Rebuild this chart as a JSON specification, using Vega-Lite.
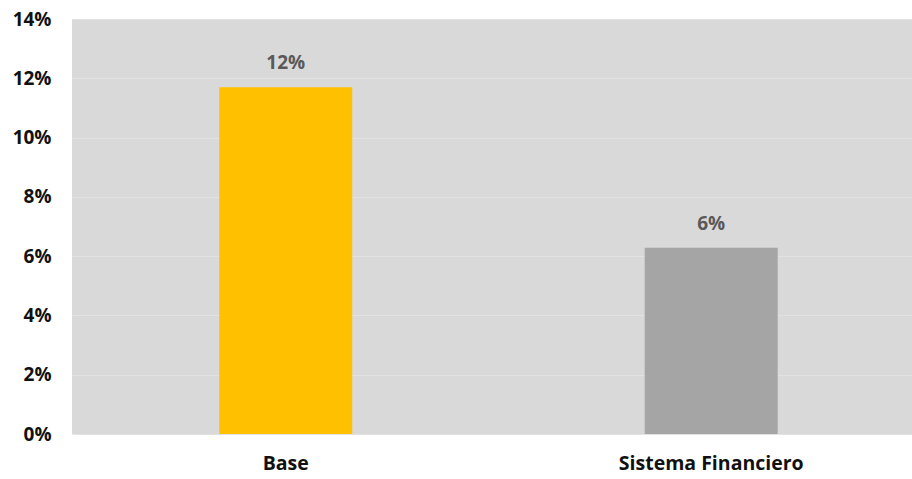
{
  "$schema": "https://vega.github.io/schema/vega-lite/v6.json",
  "autosize": {"type": "none"},
  "padding": {"left": 72, "top": 19, "right": 0, "bottom": 45},
  "width": 840,
  "height": 415,
  "background": "#ffffff",
  "config": {
    "view": {"fill": "#d9d9d9", "stroke": null},
    "font": "Open Sans"
  },
  "data": {
    "values": [
      {"categoria": "Base", "valor": 0.117, "etiqueta": "12%"},
      {"categoria": "Sistema Financiero", "valor": 0.0628, "etiqueta": "6%"}
    ]
  },
  "encoding": {
    "x": {
      "field": "categoria",
      "type": "nominal",
      "sort": null,
      "scale": {"paddingInner": 0.6874, "paddingOuter": 0.3308, "align": 0.523},
      "axis": {
        "title": null,
        "labelAngle": 0,
        "domain": false,
        "ticks": false,
        "labelFontSize": 19.5,
        "labelFontWeight": "bold",
        "labelColor": "#111111",
        "labelPadding": 20,
        "labelLimit": 400
      }
    },
    "y": {
      "field": "valor",
      "type": "quantitative",
      "scale": {"domain": [0, 0.14], "nice": false, "zero": true},
      "axis": {
        "title": null,
        "values": [0, 0.02, 0.04, 0.06, 0.08, 0.1, 0.12, 0.14],
        "format": ".0%",
        "domain": false,
        "ticks": false,
        "labelFontSize": 19,
        "labelFontWeight": "bold",
        "labelColor": "#111111",
        "labelPadding": 21,
        "gridColor": "#e2e2e2",
        "gridWidth": 1
      }
    }
  },
  "layer": [
    {
      "mark": {"type": "bar"},
      "encoding": {
        "color": {
          "field": "categoria",
          "type": "nominal",
          "scale": {"domain": ["Base", "Sistema Financiero"], "range": ["#ffc000", "#a5a5a5"]},
          "legend": null
        }
      }
    },
    {
      "mark": {"type": "text", "baseline": "alphabetic", "dy": -18, "fontSize": 19, "fontWeight": "bold", "color": "#595959"},
      "encoding": {
        "text": {"field": "etiqueta", "type": "nominal"}
      }
    }
  ]
}
